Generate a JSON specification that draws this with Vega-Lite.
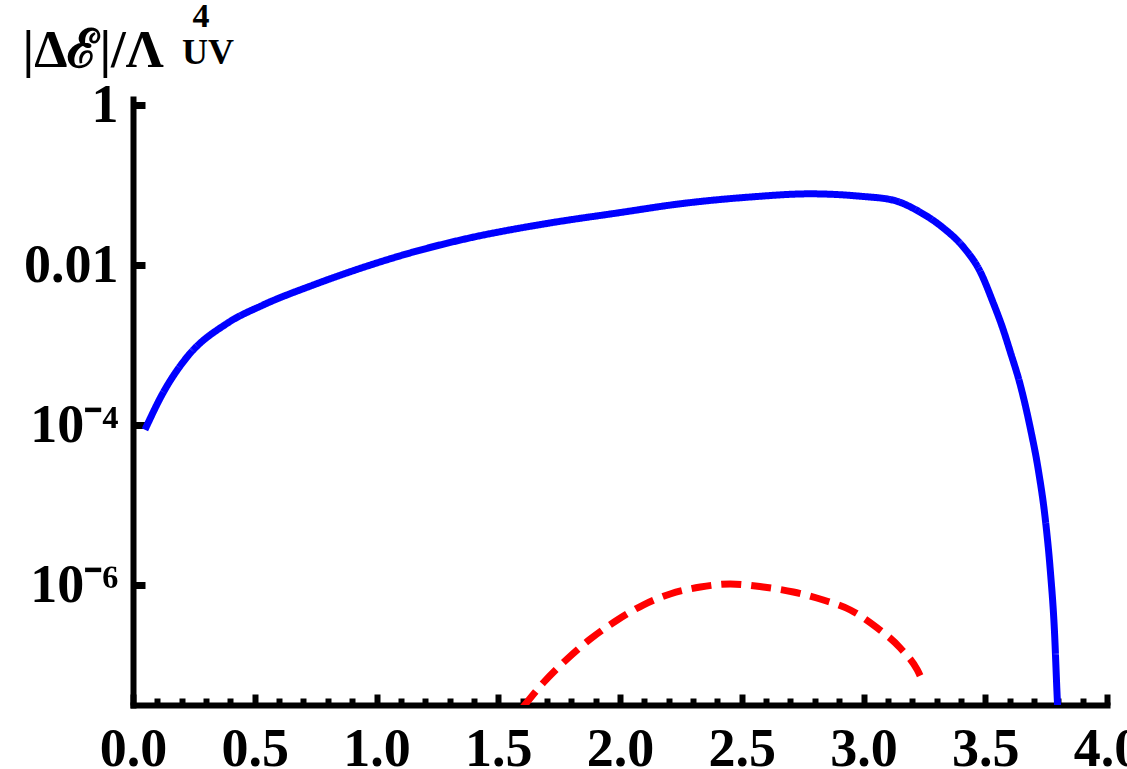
{
  "$schema": "https://vega.github.io/schema/vega-lite/v6.json",
  "width": 974,
  "height": 606,
  "autosize": "none",
  "padding": {"left": 133, "top": 99, "right": 20, "bottom": 64},
  "background": "white",
  "title": {
    "text": "UV",
    "anchor": "start",
    "frame": "group",
    "orient": "top",
    "font": "Liberation Serif",
    "fontWeight": "bold",
    "fontSize": 36,
    "color": "black",
    "baseline": "alphabetic",
    "offset": 0,
    "dx": 49,
    "dy": 101
  },
  "config": {
    "view": {"stroke": null},
    "axis": {"grid": false, "domainColor": "black", "tickColor": "black", "labelColor": "black", "titleColor": "black"}
  },
  "data": {
    "values": [
      {"x": 0.049, "y": 8.71e-5, "series": "blue"},
      {"x": 0.123, "y": 2.51e-4, "series": "blue"},
      {"x": 0.222, "y": 7.08e-4, "series": "blue"},
      {"x": 0.386, "y": 1.86e-3, "series": "blue"},
      {"x": 0.534, "y": 3.16e-3, "series": "blue"},
      {"x": 0.740, "y": 5.62e-3, "series": "blue"},
      {"x": 0.945, "y": 9.33e-3, "series": "blue"},
      {"x": 1.150, "y": 0.0145, "series": "blue"},
      {"x": 1.356, "y": 0.0209, "series": "blue"},
      {"x": 1.701, "y": 0.0331, "series": "blue"},
      {"x": 1.989, "y": 0.0447, "series": "blue"},
      {"x": 2.260, "y": 0.0589, "series": "blue"},
      {"x": 2.535, "y": 0.0708, "series": "blue"},
      {"x": 2.781, "y": 0.0776, "series": "blue"},
      {"x": 2.987, "y": 0.0724, "series": "blue"},
      {"x": 3.122, "y": 0.0646, "series": "blue"},
      {"x": 3.233, "y": 0.0457, "series": "blue"},
      {"x": 3.328, "y": 0.0290, "series": "blue"},
      {"x": 3.410, "y": 0.0168, "series": "blue"},
      {"x": 3.480, "y": 8.18e-3, "series": "blue"},
      {"x": 3.533, "y": 3.35e-3, "series": "blue"},
      {"x": 3.570, "y": 1.68e-3, "series": "blue"},
      {"x": 3.603, "y": 8.18e-4, "series": "blue"},
      {"x": 3.644, "y": 3.16e-4, "series": "blue"},
      {"x": 3.685, "y": 9.17e-5, "series": "blue"},
      {"x": 3.718, "y": 2.74e-5, "series": "blue"},
      {"x": 3.747, "y": 6.49e-6, "series": "blue"},
      {"x": 3.767, "y": 1.54e-6, "series": "blue"},
      {"x": 3.784, "y": 2.74e-7, "series": "blue"},
      {"x": 3.796, "y": 3.65e-8, "series": "blue"},
      {"x": 3.800, "y": 2.05e-8, "series": "blue"},
      {"x": 1.602, "y": 2.99e-8, "series": "red"},
      {"x": 1.684, "y": 5.96e-8, "series": "red"},
      {"x": 1.783, "y": 1.19e-7, "series": "red"},
      {"x": 1.878, "y": 2.11e-7, "series": "red"},
      {"x": 1.989, "y": 3.65e-7, "series": "red"},
      {"x": 2.095, "y": 5.62e-7, "series": "red"},
      {"x": 2.206, "y": 7.72e-7, "series": "red"},
      {"x": 2.330, "y": 9.44e-7, "series": "red"},
      {"x": 2.453, "y": 1.03e-6, "series": "red"},
      {"x": 2.588, "y": 9.44e-7, "series": "red"},
      {"x": 2.712, "y": 8.18e-7, "series": "red"},
      {"x": 2.835, "y": 6.49e-7, "series": "red"},
      {"x": 2.946, "y": 4.87e-7, "series": "red"},
      {"x": 3.057, "y": 2.90e-7, "series": "red"},
      {"x": 3.151, "y": 1.63e-7, "series": "red"},
      {"x": 3.221, "y": 8.66e-8, "series": "red"},
      {"x": 3.246, "y": 5.96e-8, "series": "red"}
    ]
  },
  "mark": {"type": "line", "clip": true, "interpolate": "monotone", "strokeWidth": 7},
  "encoding": {
    "x": {
      "field": "x",
      "type": "quantitative",
      "scale": {"domain": [0, 4], "nice": false, "zero": false},
      "axis": {
        "orient": "bottom",
        "values": [0, 0.1, 0.2, 0.3, 0.4, 0.5, 0.6, 0.7, 0.8, 0.9, 1.0, 1.1, 1.2, 1.3, 1.4, 1.5, 1.6, 1.7, 1.8, 1.9, 2.0, 2.1, 2.2, 2.3, 2.4, 2.5, 2.6, 2.7, 2.8, 2.9, 3.0, 3.1, 3.2, 3.3, 3.4, 3.5, 3.6, 3.7, 3.8, 3.9, 4.0],
        "labelExpr": "abs(datum.value * 2 - round(datum.value * 2)) < 0.01 ? format(datum.value, '.1f') : ''",
        "tickSize": {"condition": {"test": "abs(datum.value * 2 - round(datum.value * 2)) < 0.01", "value": -11}, "value": -7},
        "tickWidth": 6,
        "domainWidth": 6,
        "domainCap": "square",
        "labelFont": "Liberation Serif",
        "labelFontWeight": "bold",
        "labelFontSize": 54,
        "labelPadding": 28,
        "labelFlush": false,
        "labelOverlap": false,
        "labelBaseline": "top",
        "title": "4",
        "titleFont": "Liberation Serif",
        "titleFontWeight": "bold",
        "titleFontSize": 34,
        "titleAngle": 0,
        "titleAlign": "left",
        "titleBaseline": "alphabetic",
        "titleX": 59,
        "titleY": -679
      }
    },
    "y": {
      "field": "y",
      "type": "quantitative",
      "scale": {"type": "log", "domain": [3.162e-8, 1.189], "nice": false},
      "axis": {
        "orient": "left",
        "values": [1e-6, 1e-4, 0.01, 1],
        "labelExpr": "datum.value > 0.5 ? '1' : datum.value > 0.005 ? '0.01' : datum.value > 5e-5 ? '10⁻⁴' : '10⁻⁶'",
        "tickSize": -12,
        "tickWidth": 7,
        "domainWidth": 6,
        "domainCap": "square",
        "labelFont": "Liberation Serif",
        "labelFontWeight": "bold",
        "labelFontSize": 54,
        "labelPadding": 27,
        "labelFlush": false,
        "labelOverlap": false,
        "labelAlign": "right",
        "labelBaseline": "middle",
        "title": "|Δℰ|/Λ",
        "titleFont": "Liberation Serif",
        "titleFontWeight": "bold",
        "titleFontSize": 53,
        "titleAngle": 0,
        "titleAlign": "left",
        "titleBaseline": "alphabetic",
        "titleX": -111,
        "titleY": -33
      }
    },
    "color": {
      "field": "series",
      "type": "nominal",
      "scale": {"domain": ["blue", "red"], "range": ["#0000ff", "#ff0000"]},
      "legend": null
    },
    "strokeDash": {
      "field": "series",
      "type": "nominal",
      "scale": {"domain": ["blue", "red"], "range": [[1, 0], [20, 10]]},
      "legend": null
    }
  }
}
